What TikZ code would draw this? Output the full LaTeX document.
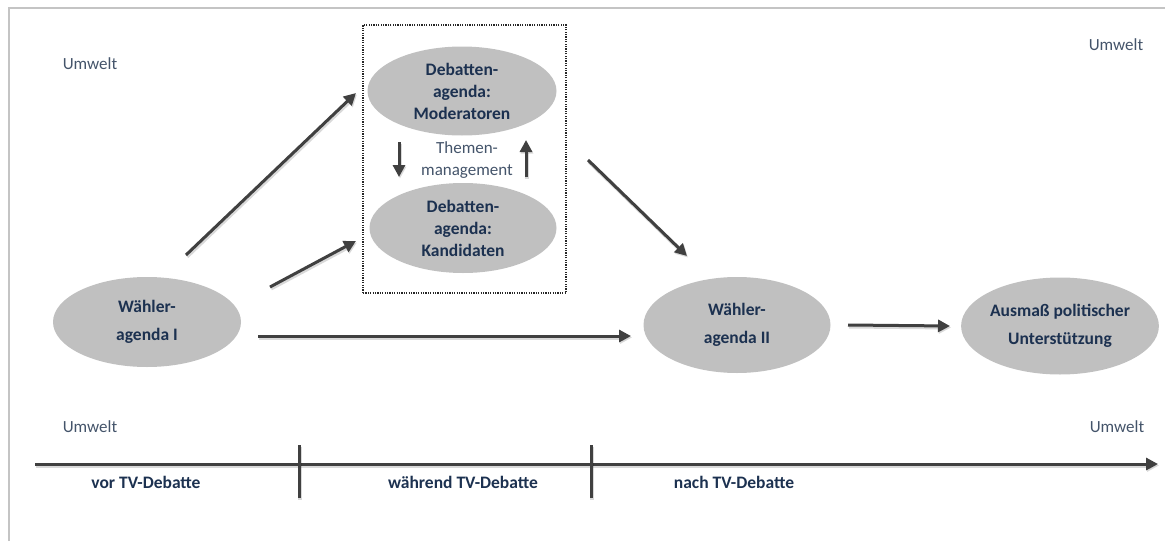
\documentclass[tikz,border=0pt]{standalone}
\usepackage{fontspec}
\setmainfont{Carlito}
\usetikzlibrary{shapes.geometric,arrows.meta,calc}
\definecolor{txtbold}{HTML}{1C3150}
\definecolor{txtlight}{HTML}{44546A}
\definecolor{arrowgray}{HTML}{404040}
\definecolor{ellgray}{HTML}{C0C0C0}
\definecolor{framegray}{HTML}{C4C4C4}

\begin{document}
\begin{tikzpicture}[x=1pt,y=-1pt,
  blob/.style={ellipse, fill=ellgray, inner sep=0pt, align=center,
    font=\fontsize{17.5}{22}\selectfont\bfseries, text=txtbold},
  wideblob/.style={blob, font=\fontsize{17.5}{28}\selectfont\bfseries},
  envlabel/.style={font=\fontsize{17}{20}\selectfont, text=txtlight, inner sep=0pt},
  phaselabel/.style={font=\fontsize{17.5}{20}\selectfont\bfseries, text=txtbold, inner sep=0pt},
  softshadow/.style={preaction={draw=black, opacity=0.15, line width=4pt,
    transform canvas={xshift=1pt, yshift=-1.5pt}}},
  flow/.style={draw=arrowgray, line width=3pt, softshadow,
    -{Triangle[length=12pt, width=12pt]}},
  axis/.style={draw=arrowgray, line width=3pt, softshadow},
]
\useasboundingbox (0,0) rectangle (1165,541);

% outer frame
\draw[framegray, line width=1.5pt] (9,541) -- (9,8) -- (1165,8);

% environment labels
\node[envlabel] (envtl) at (90,64) {Umwelt};
\node[envlabel] (envtr) at (1116,45) {Umwelt};
\node[envlabel] (envbl) at (90,427) {Umwelt};
\node[envlabel] (envbr) at (1117,427) {Umwelt};

% debate box with the two debate agendas
\node[draw=black!85, line width=1.3pt, dash pattern=on 1.2pt off 1.2pt,
  minimum width=203, minimum height=268, inner sep=0pt] (box) at (464.5,159) {};
\node[blob, minimum width=189, minimum height=89] (mod) at (462,91)
  {Debatten-\\agenda:\\Moderatoren};
\node[blob, minimum width=187, minimum height=90] (kand) at (463,228)
  {Debatten-\\agenda:\\Kandidaten};
\node[font=\fontsize{17}{22}\selectfont, text=txtlight, align=center, inner sep=0pt]
  (themen) at (467,160) {Themen-\\management};

% voter agendas and outcome
\node[wideblob, minimum width=188, minimum height=90] (w1) at (147,322)
  {Wähler-\\agenda I};
\node[wideblob, minimum width=187, minimum height=96] (w2) at (737,325)
  {Wähler-\\agenda II};
\node[wideblob, minimum width=196, minimum height=97] (aus) at (1060,326)
  {Ausmaß politischer\\Unterstützung};

% influence arrows
\draw[flow] ($(w1)+(39,-67)$) -- ($(mod)+(-106,2)$);
\draw[flow] ($(w1)+(123,-35)$) -- ($(kand)+(-107,13)$);
\draw[flow] ($(w1)+(111,14)$) -- ($(w2)+(-106,11)$);
\draw[flow] ($(mod)+(126,69)$) -- ($(w2)+(-50,-69)$);
\draw[flow] ($(w2)+(111,0)$) -- ($(aus)+(-110,0)$);

% topic management between moderators and candidates
\draw[flow] ($(mod)+(-63,51)$) -- ($(kand)+(-64,-51)$);
\draw[flow] ($(kand)+(63,-51)$) -- ($(mod)+(64,49)$);

% time axis with phases
\coordinate (t0) at (35,464);
\coordinate (t1) at (1158,464);
\coordinate (ta) at (299,464);
\coordinate (tb) at (591,464);
\draw[flow] (t0) -- (t1);
\draw[axis] ($(ta)+(0,-19)$) -- ($(ta)+(0,34)$);
\draw[axis] ($(tb)+(0,-19)$) -- ($(tb)+(0,34)$);
\node[phaselabel] (vor) at (146,482) {vor TV-Debatte};
\node[phaselabel] (waehrend) at (463,482) {während TV-Debatte};
\node[phaselabel] (nach) at (734,482) {nach TV-Debatte};
\end{tikzpicture}
\end{document}
